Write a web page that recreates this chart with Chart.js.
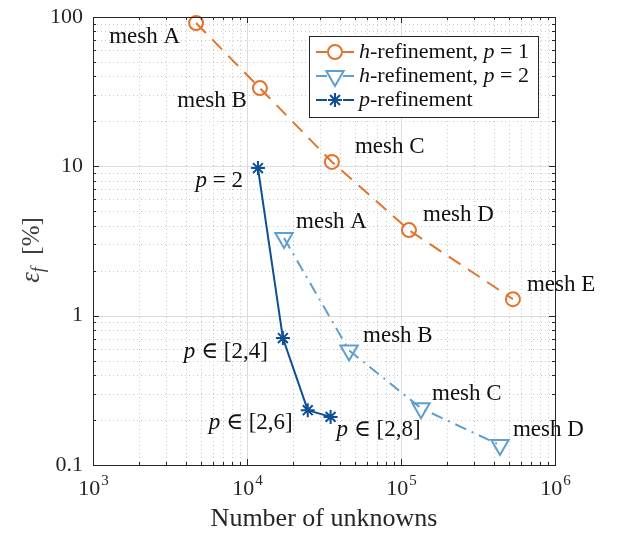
<!DOCTYPE html>
<html>
<head>
<meta charset="utf-8">
<script src="https://cdn.jsdelivr.net/npm/chart.js@4"></script>
<style>
  html, body { margin: 0; padding: 0; background: #fff; }
  #wrap { width: 617px; height: 534px; }
</style>
</head>
<body>
<div id="wrap"><canvas id="chart"></canvas></div>
<script>
// data (number of unknowns vs error in %)
const hOneX = [4670, 12130, 35600, 112700, 533000];
const hOneY = [91.2, 33.4, 10.7, 3.74, 1.29];
const hTwoX = [17400, 46000, 134900, 439000];
const hTwoY = [3.31, 0.585, 0.240, 0.136];
const pRefX = [11780, 17100, 24800, 34900];
const pRefY = [9.74, 0.708, 0.233, 0.210];

const meshNames = ['mesh A', 'mesh B', 'mesh C', 'mesh D', 'mesh E'];
const pLabels = [' = 2', ' \u2208 [2,4]', ' \u2208 [2,6]', ' \u2208 [2,8]'];
const xTicks = [1e3, 1e4, 1e5, 1e6];
const yTicks = [0.1, 1, 10, 100];
const yTickText = ['0.1', '1', '10', '100'];

const ORANGE = '#E4732A';
const LIGHT = '#5E9FD0';
const DARK = '#0C4F95';
const INK = '#262626';
const SERIF = "'Liberation Serif', 'DejaVu Serif', serif";

function pts(xs, ys) { return xs.map((x, i) => ({ x: x, y: ys[i] })); }

// label placement relative to each point: [dx, dy, align]
const hOneLbl = [[-16, 14, 'right'], [-13, 13, 'right'], [23, -15, 'left'], [14, -15, 'left'], [14, -14, 'left']];
const hTwoLbl = [[12, -16, 'left'], [14, -14, 'left'], [11, -14, 'left'], [13, -15, 'left']];
const pLbl = [[-15, 13, 'right'], [-15, 14, 'right'], [-15, 13, 'right'], [6, 13, 'left']];

function runs(ctx, parts, x, y, align, size) {
  let w = 0;
  parts.forEach(p => { ctx.font = (p[1] ? 'italic ' : '') + size + 'px ' + SERIF; w += ctx.measureText(p[0]).width; });
  let cx = align === 'right' ? x - w : (align === 'center' ? x - w / 2 : x);
  ctx.textAlign = 'left';
  ctx.textBaseline = 'middle';
  parts.forEach(p => {
    ctx.font = (p[1] ? 'italic ' : '') + size + 'px ' + SERIF;
    ctx.fillText(p[0], cx, y);
    cx += ctx.measureText(p[0]).width;
  });
}

function marker(ctx, kind, x, y, color) {
  ctx.save();
  ctx.strokeStyle = color; ctx.lineWidth = 2; ctx.setLineDash([]);
  ctx.beginPath();
  if (kind === 'circle') {
    ctx.arc(x, y, 7, 0, Math.PI * 2);
  } else if (kind === 'tri') {
    const r = 10;
    ctx.moveTo(x, y + r);
    ctx.lineTo(x - r * 0.866, y - r * 0.5);
    ctx.lineTo(x + r * 0.866, y - r * 0.5);
    ctx.closePath();
  } else {
    const r = 7;
    for (let a = 0; a < 4; a++) {
      const t = a * Math.PI / 4;
      ctx.moveTo(x - r * Math.cos(t), y - r * Math.sin(t));
      ctx.lineTo(x + r * Math.cos(t), y + r * Math.sin(t));
    }
  }
  ctx.stroke();
  ctx.restore();
}

const gridPlugin = {
  id: 'matlabGrid',
  beforeDatasetsDraw(chart) {
    const { ctx, chartArea: a, scales: { x, y } } = chart;
    ctx.save();
    ctx.lineWidth = 1;
    // minor dotted grid
    ctx.strokeStyle = '#c8c8c8';
    ctx.setLineDash([1, 3]);
    for (let e = 3; e < 6; e++) for (let d = 2; d <= 9; d++) {
      const px = Math.round(x.getPixelForValue(d * Math.pow(10, e))) + 0.5;
      ctx.beginPath(); ctx.moveTo(px, a.top); ctx.lineTo(px, a.bottom); ctx.stroke();
    }
    for (let e = -1; e < 2; e++) for (let d = 2; d <= 9; d++) {
      const py = Math.round(y.getPixelForValue(d * Math.pow(10, e))) + 0.5;
      ctx.beginPath(); ctx.moveTo(a.left, py); ctx.lineTo(a.right, py); ctx.stroke();
    }
    // major solid grid
    ctx.setLineDash([]);
    ctx.strokeStyle = '#dcdcdc';
    xTicks.forEach(v => {
      const px = Math.round(x.getPixelForValue(v)) + 0.5;
      ctx.beginPath(); ctx.moveTo(px, a.top); ctx.lineTo(px, a.bottom); ctx.stroke();
    });
    yTicks.forEach(v => {
      const py = Math.round(y.getPixelForValue(v)) + 0.5;
      ctx.beginPath(); ctx.moveTo(a.left, py); ctx.lineTo(a.right, py); ctx.stroke();
    });
    ctx.restore();
  },
  afterDatasetsDraw(chart) {
    const { ctx, chartArea: a, scales: { x, y } } = chart;
    ctx.save();
    // box and inward ticks
    ctx.strokeStyle = INK; ctx.lineWidth = 1; ctx.setLineDash([]);
    ctx.strokeRect(Math.round(a.left) + 0.5, Math.round(a.top) + 0.5, Math.round(a.right - a.left), Math.round(a.bottom - a.top));
    ctx.beginPath();
    for (let e = 3; e <= 6; e++) for (let d = 1; d <= 9; d++) {
      const v = d * Math.pow(10, e); if (v > 1e6) break;
      const len = d === 1 ? 6 : 3;
      const px = Math.round(x.getPixelForValue(v)) + 0.5;
      ctx.moveTo(px, a.bottom); ctx.lineTo(px, a.bottom - len);
      ctx.moveTo(px, a.top); ctx.lineTo(px, a.top + len);
    }
    for (let e = -1; e <= 2; e++) for (let d = 1; d <= 9; d++) {
      const v = d * Math.pow(10, e); if (v > 100) break;
      const len = d === 1 ? 6 : 3;
      const py = Math.round(y.getPixelForValue(v)) + 0.5;
      ctx.moveTo(a.left, py); ctx.lineTo(a.left + len, py);
      ctx.moveTo(a.right, py); ctx.lineTo(a.right - len, py);
    }
    ctx.stroke();

    // tick labels
    ctx.fillStyle = INK;
    yTicks.forEach((v, i) => runs(ctx, [[yTickText[i], false]], a.left - 10, y.getPixelForValue(v), 'right', 22));
    xTicks.forEach(v => {
      const px = x.getPixelForValue(v);
      const exp = String(Math.round(Math.log10(v)));
      ctx.font = '22px ' + SERIF; const wb = ctx.measureText('10').width;
      ctx.font = '15px ' + SERIF; const we = ctx.measureText(exp).width;
      const x0 = px - (wb + we) / 2;
      ctx.textAlign = 'left'; ctx.textBaseline = 'alphabetic';
      ctx.font = '22px ' + SERIF; ctx.fillText('10', x0, a.bottom + 30);
      ctx.font = '15px ' + SERIF; ctx.fillText(exp, x0 + wb + 1, a.bottom + 20);
    });

    // axis titles
    runs(ctx, [['Number of unknowns', false]], (a.left + a.right) / 2, 519, 'center', 26);
    ctx.save();
    ctx.translate(31, 250);
    ctx.rotate(-Math.PI / 2);
    ctx.fillStyle = '#404040';
    ctx.textBaseline = 'alphabetic';
    ctx.font = 'italic 27px ' + SERIF;
    const we = ctx.measureText('\u03b5').width;
    ctx.font = 'italic 18px ' + SERIF;
    const wf = ctx.measureText('f').width;
    ctx.font = '25px ' + SERIF;
    const wp = ctx.measureText('  [%]').width;
    let cx = -(we + wf + wp) / 2;
    ctx.font = 'italic 27px ' + SERIF; ctx.fillText('\u03b5', cx, 8); cx += we;
    ctx.font = 'italic 18px ' + SERIF; ctx.fillText('f', cx, 13); cx += wf;
    ctx.font = '25px ' + SERIF; ctx.fillText('  [%]', cx, 8);
    ctx.restore();

    // point annotations
    ctx.fillStyle = '#111';
    const note = (dsIndex, offs, textFor) => {
      const meta = chart.getDatasetMeta(dsIndex);
      meta.data.forEach((el, i) => {
        const o = offs[i];
        runs(ctx, textFor(i), el.x + o[0], el.y + o[1], o[2], 23);
      });
    };
    note(0, hOneLbl, i => [[meshNames[i], false]]);
    note(1, hTwoLbl, i => [[meshNames[i], false]]);
    note(2, pLbl, i => [['p', true], [pLabels[i], false]]);

    // legend
    const lx = 309, ly = 36, lw = 229, lh = 81;
    ctx.fillStyle = '#fff';
    ctx.fillRect(lx, ly, lw, lh);
    ctx.strokeStyle = INK; ctx.lineWidth = 1;
    ctx.strokeRect(lx + 0.5, ly + 0.5, lw, lh);
    const rows = [
      [ORANGE, 'circle', [['h', true], ['-refinement, ', false], ['p', true], [' = 1', false]]],
      [LIGHT, 'tri', [['h', true], ['-refinement, ', false], ['p', true], [' = 2', false]]],
      [DARK, 'star', [['p', true], ['-refinement', false]]],
    ];
    rows.forEach((r, i) => {
      const ry = ly + 16 + i * 24;
      ctx.strokeStyle = r[0]; ctx.lineWidth = 2;
      ctx.beginPath(); ctx.moveTo(316, ry); ctx.lineTo(327, ry); ctx.moveTo(343, ry); ctx.lineTo(354, ry); ctx.stroke();
      marker(ctx, r[1], 335, ry, r[0]);
      ctx.fillStyle = '#111';
      runs(ctx, r[2], 359, ry, 'left', 22);
    });
    ctx.restore();
  }
};

new Chart(document.getElementById('chart'), {
  type: 'line',
  data: {
    datasets: [
      {
        label: 'h-refinement, p = 1', data: pts(hOneX, hOneY),
        borderColor: ORANGE, borderWidth: 2, borderDash: [14, 9],
        pointStyle: 'circle', pointRadius: 7, pointBorderWidth: 2,
        pointBorderColor: ORANGE, pointBackgroundColor: 'rgba(0,0,0,0)', clip: false,
      },
      {
        label: 'h-refinement, p = 2', data: pts(hTwoX, hTwoY),
        borderColor: LIGHT, borderWidth: 2, borderDash: [12, 6, 2, 6],
        pointStyle: 'triangle', pointRotation: 180, pointRadius: 10, pointBorderWidth: 2,
        pointBorderColor: LIGHT, pointBackgroundColor: 'rgba(0,0,0,0)', clip: false,
      },
      {
        label: 'p-refinement', data: pts(pRefX, pRefY),
        borderColor: DARK, borderWidth: 2,
        pointStyle: 'star', pointRadius: 7, pointBorderWidth: 2,
        pointBorderColor: DARK, pointBackgroundColor: DARK, clip: false,
      },
    ],
  },
  options: {
    responsive: true,
    maintainAspectRatio: false,
    animation: false,
    layout: { padding: { left: 93, right: 62, top: 17, bottom: 69 } },
    plugins: { legend: { display: false }, tooltip: { enabled: false } },
    scales: {
      x: { type: 'logarithmic', min: 1e3, max: 1e6, display: false },
      y: { type: 'logarithmic', min: 0.1, max: 100, display: false },
    },
  },
  plugins: [gridPlugin],
});
</script>
</body>
</html>
